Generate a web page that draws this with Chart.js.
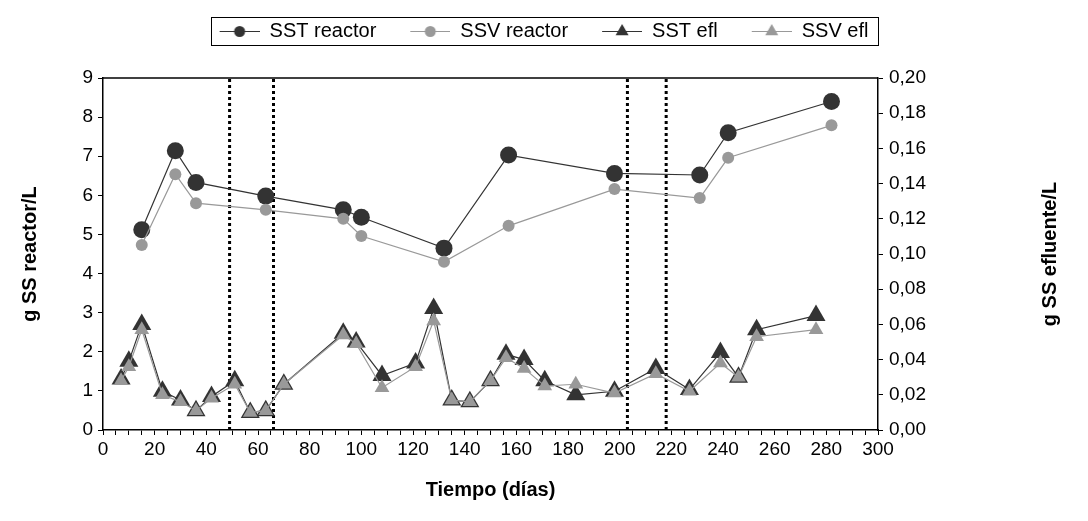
<!DOCTYPE html>
<html lang="es">
<head>
<meta charset="utf-8">
<title>Sólidos suspendidos en reactor y efluente</title>
<script src="https://cdn.jsdelivr.net/npm/chart.js@4.4.1/dist/chart.umd.min.js"></script>
<style>
  html, body { margin: 0; padding: 0; background: #fff; }
  #wrap { width: 1088px; height: 521px; }
</style>
</head>
<body>
<div id="wrap"><canvas id="ssChart"></canvas></div>
<script>
// reactor: días de muestreo y sólidos (g/L)
const reactorDays = [15, 28, 36, 63, 93, 100, 132, 157, 198, 231, 242, 282];
const sstReactor = [5.12, 7.14, 6.33, 5.98, 5.63, 5.44, 4.65, 7.03, 6.56, 6.52, 7.60, 8.40];
const ssvReactor = [4.73, 6.54, 5.80, 5.63, 5.40, 4.96, 4.30, 5.22, 6.16, 5.93, 6.96, 7.79];

// efluente: días de muestreo y sólidos (g/L)
const effluentDays = [7, 10, 15, 23, 30, 36, 42, 51, 57, 63, 70, 93, 98, 108, 121, 128, 135, 142, 150, 156, 163, 171, 183, 198, 214, 227, 239, 246, 253, 276];
const sstEffluent = [0.029, 0.039, 0.060, 0.022, 0.017, 0.011, 0.019, 0.028, 0.010, 0.011, 0.026, 0.055, 0.050, 0.031, 0.038, 0.069, 0.017, 0.016, 0.028, 0.043, 0.040, 0.028, 0.020, 0.022, 0.035, 0.023, 0.044, 0.030, 0.057, 0.065];
const ssvEffluent = [0.028, 0.036, 0.057, 0.020, 0.016, 0.011, 0.018, 0.026, 0.010, 0.011, 0.026, 0.054, 0.049, 0.024, 0.036, 0.062, 0.017, 0.016, 0.028, 0.041, 0.035, 0.025, 0.026, 0.021, 0.032, 0.022, 0.038, 0.030, 0.053, 0.057];

// cambios de etapa (líneas punteadas)
const stageDays = [49, 66, 203, 218];

const seriesNames = ['SST reactor', 'SSV reactor', 'SST efl', 'SSV efl'];
const dayRange = [0, 300];
const reactorRange = [0, 9];
const effluentRange = [0, 0.2];

const DARK = '#333333';
const GREY = '#999999';
const FONT = '"Liberation Sans", Arial, sans-serif';
const TICK_SIZE = 19;
const LEGEND_SIZE = 20;
const TITLE_SIZE = 20;

Chart.defaults.font.family = FONT;
Chart.defaults.font.size = TICK_SIZE;
Chart.defaults.color = '#000';

function pts(xs, ys) {
  return xs.map((x, i) => ({ x: x, y: ys[i] }));
}

// muestra de línea + marcador para la leyenda (14 px libres a la izquierda como separación)
const SAMPLE_GAP = 14;
const SAMPLE_LINE = 40;
function legendSample(color, shape, r) {
  const c = document.createElement('canvas');
  c.width = SAMPLE_GAP + SAMPLE_LINE;
  c.height = 20;
  const g = c.getContext('2d');
  const cy = 10.5;
  const cx = SAMPLE_GAP + SAMPLE_LINE / 2;
  g.strokeStyle = color;
  g.lineWidth = 1;
  g.beginPath();
  g.moveTo(SAMPLE_GAP, cy);
  g.lineTo(SAMPLE_GAP + SAMPLE_LINE, cy);
  g.stroke();
  g.fillStyle = color;
  g.beginPath();
  if (shape === 'circle') {
    g.arc(cx, cy, r, 0, Math.PI * 2);
  } else {
    g.moveTo(cx, cy - r);
    g.lineTo(cx + r * 0.866, cy + r * 0.5);
    g.lineTo(cx - r * 0.866, cy + r * 0.5);
    g.closePath();
  }
  g.fill();
  return c;
}

const samples = [
  legendSample(DARK, 'circle', 5.5),
  legendSample(GREY, 'circle', 5.5),
  legendSample(DARK, 'triangle', 7.5),
  legendSample(GREY, 'triangle', 7.5)
];

const stageSets = stageDays.map(d => ({
  data: [{ x: d, y: reactorRange[0] }, { x: d, y: reactorRange[1] }],
  yAxisID: 'y',
  borderColor: '#000',
  borderWidth: 3,
  borderDash: [3, 3],
  pointRadius: 0,
  order: 10
}));

const chromePlugin = {
  id: 'chrome',
  beforeUpdate(chart) {
    // deja el área de trazado a la altura fija bajo la leyenda
    const lg = chart.legend;
    if (lg && !lg._fixed) {
      const fit = lg.fit;
      lg.fit = function () {
        fit.call(this);
        this.height = 77;
      };
      lg._fixed = true;
    }
  },
  afterDraw(chart) {
    const ctx = chart.ctx;
    const a = chart.chartArea;
    ctx.save();
    // marco superior del área de trazado
    ctx.strokeStyle = '#000';
    ctx.lineWidth = 1.5;
    ctx.beginPath();
    ctx.moveTo(a.left, a.top);
    ctx.lineTo(a.right, a.top);
    ctx.stroke();

    // título del eje derecho, leído de abajo hacia arriba
    ctx.font = 'bold ' + TITLE_SIZE + 'px ' + FONT;
    ctx.fillStyle = '#000';
    ctx.textAlign = 'center';
    ctx.textBaseline = 'middle';
    ctx.translate(1050, (a.top + a.bottom) / 2);
    ctx.rotate(-Math.PI / 2);
    ctx.fillText('g SS efluente/L', 0, 0);
    ctx.restore();

    // recuadro de la leyenda
    const boxes = chart.legend.legendHitBoxes;
    if (boxes && boxes.length) {
      const l = Math.min(...boxes.map(b => b.left)) + SAMPLE_GAP - 9;
      const r = Math.max(...boxes.map(b => b.left + b.width)) + 9;
      const t = boxes[0].top - 4;
      const h = 28;
      ctx.save();
      ctx.strokeStyle = '#000';
      ctx.lineWidth = 1;
      ctx.strokeRect(Math.round(l) + 0.5, Math.round(t) + 0.5, Math.round(r - l), h);
      ctx.restore();
    }
  }
};

new Chart(document.getElementById('ssChart'), {
  type: 'line',
  data: {
    datasets: [
      {
        label: seriesNames[0],
        data: pts(reactorDays, sstReactor),
        yAxisID: 'y',
        borderColor: DARK,
        backgroundColor: DARK,
        borderWidth: 1.2,
        pointStyle: 'circle',
        pointRadius: 8.5,
        pointBorderWidth: 0,
        order: 4
      },
      {
        label: seriesNames[1],
        data: pts(reactorDays, ssvReactor),
        yAxisID: 'y',
        borderColor: GREY,
        backgroundColor: GREY,
        borderWidth: 1.2,
        pointStyle: 'circle',
        pointRadius: 6,
        pointBorderWidth: 0,
        order: 3
      },
      {
        label: seriesNames[2],
        data: pts(effluentDays, sstEffluent),
        yAxisID: 'y2',
        borderColor: DARK,
        backgroundColor: DARK,
        borderWidth: 1.2,
        pointStyle: 'triangle',
        pointRadius: 11,
        pointBorderWidth: 0,
        order: 2
      },
      {
        label: seriesNames[3],
        data: pts(effluentDays, ssvEffluent),
        yAxisID: 'y2',
        borderColor: GREY,
        backgroundColor: GREY,
        borderWidth: 1.2,
        pointStyle: 'triangle',
        pointRadius: 8.5,
        pointBorderWidth: 0,
        order: 1
      },
      ...stageSets
    ]
  },
  options: {
    responsive: true,
    maintainAspectRatio: false,
    animation: false,
    events: [],
    layout: { padding: { top: 1, left: 0, right: 14, bottom: 0 } },
    plugins: {
      tooltip: { enabled: false },
      legend: {
        position: 'top',
        labels: {
          usePointStyle: true,
          pointStyleWidth: SAMPLE_GAP + SAMPLE_LINE,
          padding: 20,
          color: '#000',
          font: { size: LEGEND_SIZE },
          generateLabels: () => seriesNames.map((name, i) => ({
            text: name,
            pointStyle: samples[i],
            datasetIndex: i,
            hidden: false,
            lineWidth: 0,
            strokeStyle: 'transparent',
            fillStyle: 'transparent',
            fontColor: '#000'
          }))
        }
      }
    },
    scales: {
      x: {
        type: 'linear',
        min: dayRange[0],
        max: dayRange[1],
        ticks: {
          stepSize: 5,
          autoSkip: false,
          maxRotation: 0,
          padding: 3,
          callback: v => (v % 20 === 0 ? v : '')
        },
        grid: { drawOnChartArea: false, tickLength: 5, color: '#000' },
        border: { color: '#000', width: 1.5 },
        title: {
          display: true,
          text: 'Tiempo (días)',
          font: { size: TITLE_SIZE, weight: 'bold' },
          padding: { top: 0, bottom: 19 }
        },
        afterFit: s => { s.height = 91; }
      },
      y: {
        position: 'left',
        min: reactorRange[0],
        max: reactorRange[1],
        ticks: { stepSize: 1, padding: 5 },
        grid: { drawOnChartArea: false, tickLength: 5, color: '#000' },
        border: { color: '#000', width: 1.5 },
        title: {
          display: true,
          text: 'g SS reactor/L',
          font: { size: TITLE_SIZE, weight: 'bold' },
          padding: { top: 18, bottom: 0 }
        },
        afterFit: s => { s.width = 103; }
      },
      y2: {
        position: 'right',
        min: effluentRange[0],
        max: effluentRange[1],
        ticks: {
          stepSize: 0.02,
          padding: 6,
          callback: v => v.toFixed(2).replace('.', ',')
        },
        grid: { drawOnChartArea: false, tickLength: 5, color: '#000' },
        border: { color: '#000', width: 1.5 },
        afterFit: s => { s.width = 196; }
      }
    }
  },
  plugins: [chromePlugin]
});
</script>
</body>
</html>
